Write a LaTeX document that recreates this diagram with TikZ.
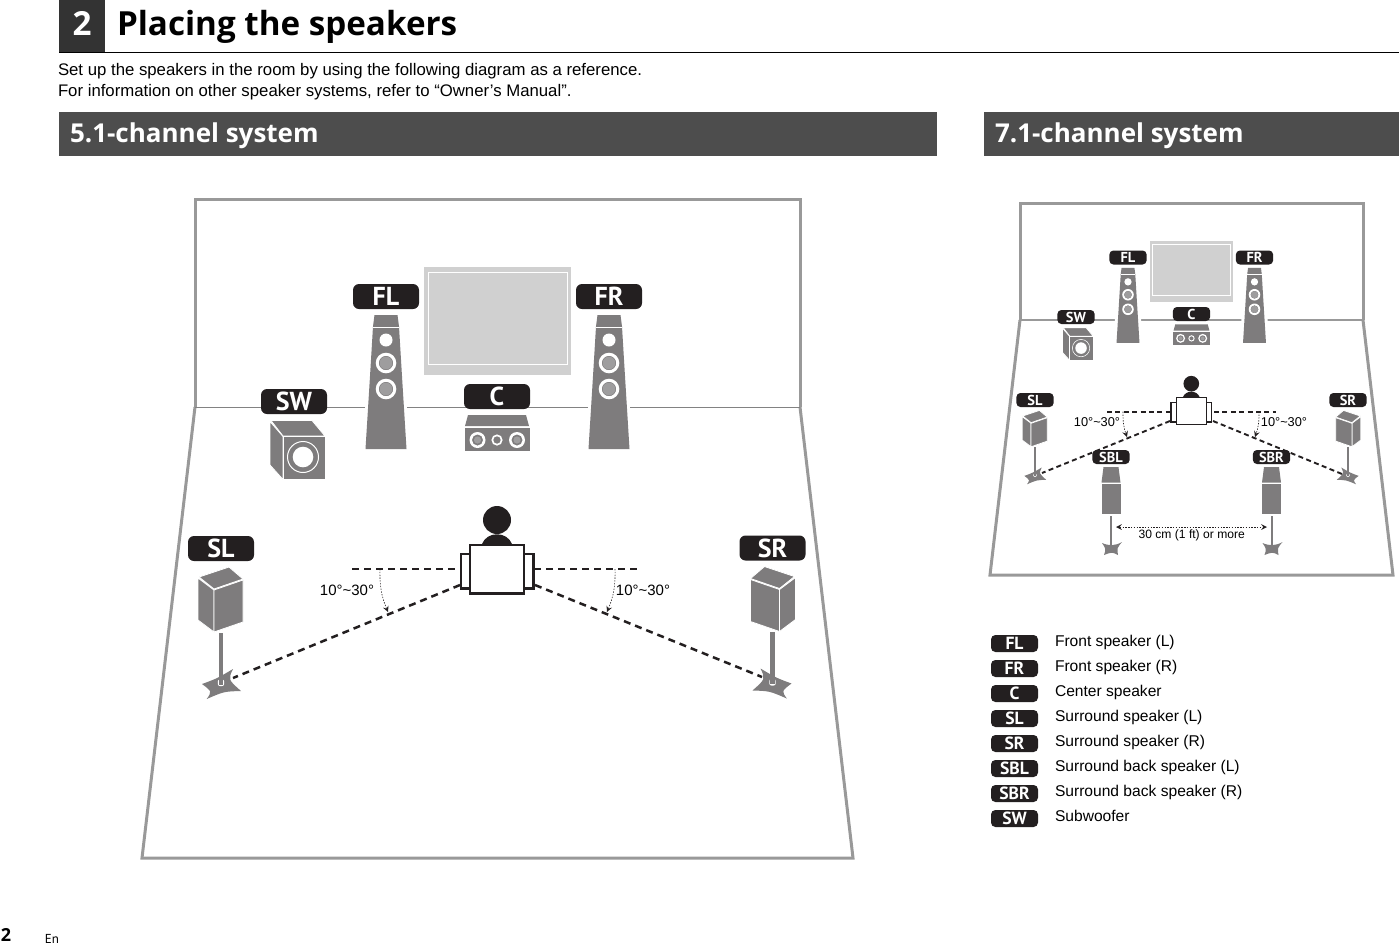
\documentclass[tikz,border=0pt]{standalone}
\usepackage{fontspec}
\setmainfont{Liberation Sans}
\newfontfamily\myriad{PT Sans}
\newfontfamily\heading{Open Sans}
\usetikzlibrary{arrows, positioning, calc}
\definecolor{spkgrey}{HTML}{7E7C7D}
\definecolor{pilldark}{HTML}{231F20}
\definecolor{wallgrey}{HTML}{999999}
\definecolor{screengrey}{HTML}{D0D0D0}
\definecolor{bargrey}{HTML}{4D4D4D}
\definecolor{headgrey}{HTML}{333333}
\tikzset{
  every node/.style={inner sep=0pt, outer sep=0pt},
  pill/.style={fill=pilldark, text=white, rounded corners=3pt, minimum width=33pt,
    minimum height=12.5pt, font=\myriad\bfseries\fontsize{13}{13}\selectfont},
  pillsmall/.style={fill=pilldark, text=white, rounded corners=2pt, minimum width=18.6pt,
    minimum height=7pt, font=\myriad\bfseries\fontsize{7.2}{7.2}\selectfont},
  pillkey/.style={fill=pilldark, text=white, rounded corners=2.2pt, minimum width=23.5pt,
    minimum height=8.5pt, font=\myriad\bfseries\fontsize{8.8}{8.8}\selectfont},
  intro/.style={font=\fontsize{8.38}{8.38}\selectfont, anchor=base west},
  body/.style={font=\fontsize{7.8}{7.8}\selectfont, anchor=base west},
  angletext/.style={font=\fontsize{7.5}{7.5}\selectfont},
  anglesmall/.style={font=\fontsize{6.4}{6.4}\selectfont},
  sighted/.style={line width=1.25pt, dash pattern=on 3.5pt off 2.5pt, pilldark},
  sightedsmall/.style={line width=.95pt, dash pattern=on 2.5pt off 1.7pt, pilldark},
  swing/.style={->, >=stealth, line width=.3pt, dash pattern=on .7pt off .7pt, pilldark},
  face/.style={fill=spkgrey, draw=white, line width=.4pt},
  wall/.style={draw=wallgrey, line width=1.5pt},
  % speaker bodies: (0,0) is the centre of the label above them
  pics/tower/.style={code={
    \fill[spkgrey, preaction={draw=white, line width=3pt}] (-11.5,18.5) -- (11.5,18.5) -- (13,30)
      .. controls (16,80) .. (20.5,152.5) -- (-20.5,152.5) .. controls (-16,80) .. (-13,30) -- cycle;
    \fill[white] (-13,30) rectangle (13,31);
    \fill[white] (0,43.5) circle (6.5);
    \foreach \y in {66.5,92.5} {
      \fill[white, even odd rule] (0,\y) circle (10.3) circle (7.2);
      \fill[spkgrey!75!white] (0,\y) circle (6.4);
    }
  }},
  pics/centrebox/.style={code={
    \fill[spkgrey] (-29,18.5) -- (29,18.5) -- (32,29.5) -- (-32,29.5) -- cycle;
    \fill[spkgrey] (-32.5,31.5) rectangle (32.5,54.5);
    \foreach \x in {-19.5,20} {
      \fill[white, even odd rule] (\x,43.5) circle (8) circle (5.6);
      \fill[spkgrey!75!white] (\x,43.5) circle (3.6);
    }
    \fill[white, even odd rule] (0,43.5) circle (5.6) circle (3.8);
  }},
  pics/subbox/.style={code={
    \path[face] (-23,19) -- (18,19) -- (31,34.5) -- (-11,34.5) -- cycle;
    \path[face] (-24,20) -- (-11,35) -- (-11,78) -- (-24,63.5) -- cycle;
    \path[face] (-11,35) rectangle (31,78);
    \fill[white, even odd rule] (9,55.5) circle (16) circle (15);
    \fill[white] (9,55.5) circle (10.3);
  }},
  pics/surround/.style={code={
    \path[face] (-22,28.5) -- (8,18.5) -- (22,30.5) -- (-7,40.5) -- cycle;
    \path[face] (-23,29.5) -- (-7,41.5) -- (-7,83.5) -- (-23,71.5) -- cycle;
    \path[face] (-7,41.5) -- (22,31.5) -- (22,73.5) -- (-7,83.5) -- cycle;
    \fill[spkgrey] (-19,135.5) .. controls (-4,130) .. (12,120.5)
      .. controls (7,131) .. (20,142.5) .. controls (3,143) .. (-14.3,150.5)
      .. controls (-9,143) .. cycle;
    \fill[white, rounded corners=1pt] (-3.2,131) rectangle (3.2,137.5);
    \fill[spkgrey] (-2.2,84) rectangle (2.2,136);
  }},
  pics/backspk/.style={code={
    \fill[spkgrey] (-7.5,10) -- (7.5,10) -- (9.5,25.5) -- (-9.5,25.5) -- cycle;
    \fill[spkgrey] (-9.5,27) rectangle (9.5,56.5);
    \fill[spkgrey] (-9,86) .. controls (-2,89) and (4,89) .. (11,85) .. controls (6,91) .. (7,98)
      .. controls (1,95) .. (-7,98) .. controls (-5,92) .. cycle;
    \fill[spkgrey] (-1,58.5) rectangle (1,92);
  }},
  pics/listener/.style={code={
    \fill[pilldark] (0,0) circle (14);
    \fill[pilldark] (-15,24) .. controls (-10,11) and (10,11) .. (15,24) -- cycle;
    \foreach \s in {-1,1} {
      \fill[pilldark] (\s*27,33) rectangle (\s*37.5,69.5);
      \fill[white] (\s*27,35.2) rectangle (\s*35.3,67.3);
    }
    \fill[pilldark] (-28,24) rectangle (28,74.5);
    \fill[white] (-25.6,26.4) rectangle (25.6,72.1);
  }},
  pics/screen/.style={code={
    \fill[screengrey] (-73.5,-54) rectangle (73.5,54);
    \draw[white, line width=.5pt] (-69.5,-49) rectangle (69.5,43);
  }}
}
\begin{document}
\begin{tikzpicture}[x=0.5pt, y=-0.5pt]
\useasboundingbox (0,0) rectangle (1399,944);
% heading
\fill[headgrey] (59,0) rectangle (105,52);
\draw[line width=.5pt] (59,52) -- (1399,52);
\node[anchor=base, text=white, font=\heading\bfseries\fontsize{16.6}{16.6}\selectfont] (hnum) at (82,35) {2};
\node[anchor=base west, font=\heading\bfseries\fontsize{16.6}{16.6}\selectfont] (htitle) at (117,35) {Placing the speakers};
\node[intro] (intro1) at (58,75) {Set up the speakers in the room by using the following diagram as a reference.};
\node[intro] (intro2) at (58,96.5) {For information on other speaker systems, refer to “Owner’s Manual”.};
\fill[bargrey] (59,112) rectangle (937,156);
\fill[bargrey] (984,112) rectangle (1399,156);
\node[anchor=base west, text=white, font=\heading\bfseries\fontsize{13}{13}\selectfont] (bar5) at (70,142.2) {5.1-channel system};
\node[anchor=base west, text=white, font=\heading\bfseries\fontsize{13}{13}\selectfont] (bar7) at (995,142.2) {7.1-channel system};
% 5.1 room
\draw[wall] (195,407) -- (195,199) -- (800,199) -- (800,407);
\draw[wall] (195,407) -- (142,858) -- (853,858) -- (800,407);
\draw[wallgrey!85!black, line width=.5pt] (195,407) -- (800,407);
\pic at (497.5,321) {screen};
\pic at (386,296.5) {tower};
\pic at (609,296.5) {tower};
\pic at (497,396.5) {centrebox};
\pic at (294,401.5) {subbox};
\node[pill] (fl) at (386,296.5) {FL};
\node[pill] (fr) at (609,296.5) {FR};
\node[pill] (c) at (497,396.5) {C};
\node[pill] (sw) at (294,401.5) {SW};
\pic at (221,548.5) {surround};
\pic[xscale=-1] at (772.5,548) {surround};
\node[pill] (sl) at (221,548.5) {SL};
\node[pill] (sr) at (772.5,548) {SR};
\pic at (497,520) {listener};
\coordinate (hl) at (352,569); \coordinate (hla) at (461,569);
\coordinate (hr) at (640,569); \coordinate (hra) at (534,569);
\coordinate (dl) at (233,678); \coordinate (dla) at (460,585);
\coordinate (dr) at (762,677); \coordinate (dra) at (535,585);
\coordinate (al) at (380,569); \coordinate (alb) at (388,612);
\coordinate (ar) at (615,569); \coordinate (arb) at (607,612);
\draw[sighted] (hl) -- (hla);
\draw[sighted] (hra) -- (hr);
\draw[sighted] (dla) -- (dl);
\draw[sighted] (dra) -- (dr);
\draw[swing] (al) to[bend right=12] (alb);
\draw[swing] (ar) to[bend left=12] (arb);
\node[angletext] (tl) at (347,590) {10°\char`~30°};
\node[angletext] (tr) at (643,590) {10°\char`~30°};
% 7.1 room
\draw[wall] (1020,320) -- (1020,203) -- (1363,203) -- (1363,320);
\draw[wall] (1020,320) -- (990,575) -- (1393,575) -- (1363,320);
\draw[wallgrey, line width=1pt] (1020,320) -- (1363,320);
\pic[scale=.56] at (1191.5,271.5) {screen};
\pic[scale=.56] at (1128,257.5) {tower};
\pic[scale=.56] at (1254.5,257.5) {tower};
\pic[scale=.56] at (1191.5,314) {centrebox};
\pic[scale=.56] at (1076,317) {subbox};
\pic[scale=.56] at (1035,400) {surround};
\pic[xscale=-.56, yscale=.56] at (1348,400) {surround};
\pic[scale=.56] at (1191.3,383.7) {listener};
\coordinate (shl) at (1107,411.7); \coordinate (shla) at (1170,411.7);
\coordinate (shr) at (1276,411.7); \coordinate (shra) at (1214,411.7);
\coordinate (sdl) at (1042,473); \coordinate (sdla) at (1170,421);
\coordinate (sdr) at (1342,474); \coordinate (sdra) at (1213,421);
\coordinate (sal) at (1123,411.7); \coordinate (salb) at (1127,437);
\coordinate (sar) at (1259,411.7); \coordinate (sarb) at (1255,437);
\coordinate (diml) at (1116,527); \coordinate (dimr) at (1267,527);
\draw[sightedsmall] (shl) -- (shla);
\draw[sightedsmall] (shra) -- (shr);
\draw[sightedsmall] (sdla) -- (sdl);
\draw[sightedsmall] (sdra) -- (sdr);
\draw[swing] (sal) to[bend right=10] (salb);
\draw[swing] (sar) to[bend left=10] (sarb);
\draw[swing, <->] (diml) -- (dimr);
\pic at (1111,457) {backspk};
\pic at (1271.5,457) {backspk};
\node[pillsmall] (sfl) at (1128,257.5) {FL};
\node[pillsmall] (sfr) at (1254.5,257.5) {FR};
\node[pillsmall] (sc) at (1191.5,314) {C};
\node[pillsmall] (ssw) at (1076,317) {SW};
\node[pillsmall] (ssl) at (1035,400) {SL};
\node[pillsmall] (ssr) at (1348,400) {SR};
\node[pillsmall] (ssbl) at (1111,457) {SBL};
\node[pillsmall] (ssbr) at (1271.5,457) {SBR};
\node[anglesmall] (stl) at (1097,422) {10°\char`~30°};
\node[anglesmall] (str) at (1284,422) {10°\char`~30°};
\node[anglesmall, font=\fontsize{6.05}{6.05}\selectfont] (sdim) at (1191.7,535.5) {30 cm (1 ft) or more};
% key
\foreach \tag/\txt [count=\i from 0] in {FL/Front speaker (L), FR/Front speaker (R), C/Center speaker,
    SL/Surround speaker (L), SR/Surround speaker (R), SBL/Surround back speaker (L),
    SBR/Surround back speaker (R), SW/Subwoofer} {
  \node[pillkey] (key\tag) at (1014.5,643.5+25*\i) {\raisebox{-.6pt}{\tag}};
  \node[body] (txt\tag) at (1055,646.5+25*\i) {\txt};
}
% page number
\node[anchor=base west, font=\heading\bfseries\fontsize{9}{9}\selectfont] (pnum) at (1,941.5) {2};
\node[anchor=base west, font=\myriad\fontsize{6.5}{6.5}\selectfont] (plang) at (45,943) {En};
\end{tikzpicture}
\end{document}
